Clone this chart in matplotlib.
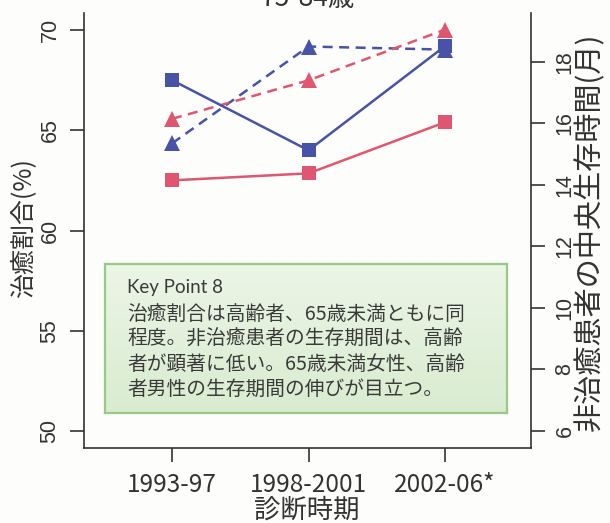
import numpy as np
import matplotlib
matplotlib.use("Agg")
import matplotlib.pyplot as plt

# ---- data ----
periods = ["1993-97", "1998-2001", "2002-06*"]
cure_male = [67.5, 64.0, 69.2]        # blue squares, left axis (%)
cure_female = [62.5, 62.85, 65.4]     # red squares, left axis (%)
surv_male = [15.35, 18.5, 18.4]       # blue triangles, right axis (months)
surv_female = [16.15, 17.4, 19.05]    # red triangles, right axis (months)
left_ticks = [50, 55, 60, 65, 70]
right_ticks = [6, 8, 10, 12, 14, 16, 18]
title = "75-84歳"
xlabel = "診断時期"
ylabel_left = "治癒割合(%)"
ylabel_right = "非治癒患者の中央生存時間(月)"
key_title = "Key Point 8"
key_lines = ["治癒割合は高齢者、65歳未満ともに同",
             "程度。非治癒患者の生存期間は、高齢",
             "者が顕著に低い。65歳未満女性、高齢",
             "者男性の生存期間の伸びが目立つ。"]

BLUE = "#4852a6"
RED = "#de566f"
INK = "#333333"
JP = ["Noto Sans CJK JP", "DejaVu Sans"]
SANS = ["Liberation Sans", "DejaVu Sans"]

W, H = 610, 523
fig = plt.figure(figsize=(W / 100, H / 100), dpi=100, facecolor="#fdfdfb")

def fx(px):
    return px / W

def fy(py):
    return 1 - py / H

L, R, T, B = 84, 531, 13, 448
ax = fig.add_axes([fx(L), fy(B), fx(R - L), (B - T) / H])
ax2 = ax.twinx()
ax.set_zorder(ax2.get_zorder() + 1)
ax.patch.set_visible(False)

x = np.arange(1, len(periods) + 1)

ax2.plot(x, surv_male, color=BLUE, lw=1.8, ls=(0, (4, 2.6)), marker="^", ms=11,
         markeredgewidth=0)
ax2.plot(x, surv_female, color=RED, lw=1.8, ls=(0, (4, 2.6)), marker="^", ms=11,
         markeredgewidth=0)
ax.plot(x, cure_male, color=BLUE, lw=1.8, marker="s", ms=10.5, markeredgewidth=0)
ax.plot(x, cure_female, color=RED, lw=1.8, marker="s", ms=10.5, markeredgewidth=0)

ax.set_xlim(0.355, 3.63)
ax.set_ylim(49.15, 70.85)
ax2.set_ylim(5.447, 19.59)

for a in (ax, ax2):
    for s in a.spines.values():
        s.set_visible(False)
        s.set_color(INK)
        s.set_linewidth(1.2)
ax.spines["left"].set_visible(True)
ax.spines["bottom"].set_visible(True)
ax2.spines["right"].set_visible(True)

ax.set_xticks(x)
ax.set_xticklabels(periods, fontfamily=JP, fontsize=17.5, color=INK)
ax.tick_params(axis="x", length=10, width=1.2, color=INK, pad=7)

ax.set_yticks(left_ticks)
ax.set_yticklabels([str(t) for t in left_ticks], fontfamily=SANS, fontsize=15.5,
                   color=INK, rotation=90, va="center")
ax.tick_params(axis="y", length=10, width=1.2, color=INK, pad=7)

ax2.set_yticks(right_ticks)
ax2.set_yticklabels([str(t) for t in right_ticks], fontfamily=SANS, fontsize=15.5,
                    color=INK, rotation=90, va="center")
ax2.tick_params(axis="y", length=10, width=1.2, color=INK, pad=7)

# axis labels
fig.text(fx(307), fy(510), xlabel, fontfamily=JP, fontsize=19, color=INK,
         ha="center", va="center")
fig.text(fx(23), fy(228), ylabel_left, fontfamily=JP, fontsize=18, color=INK,
         ha="center", va="center", rotation=90)
fig.text(fx(590), fy(232), ylabel_right, fontfamily=JP, fontsize=21, color=INK,
         ha="center", va="center", rotation=90)
fig.text(fx(308), fy(6), title, fontfamily=JP, fontsize=19, color=INK,
         ha="center", va="baseline")

# key point box
bl, br, bt, bb = 105, 507, 264, 413
bax = fig.add_axes([fx(bl), fy(bb), fx(br - bl), (bb - bt) / H], zorder=10)
grad = np.linspace(0, 1, 64)[:, None]
top_c = np.array([0.925, 0.962, 0.905])
bot_c = np.array([0.850, 0.925, 0.815])
img = top_c[None, None, :] * (1 - grad[..., None]) + bot_c[None, None, :] * grad[..., None]
img = np.repeat(img, 4, axis=1)
bax.imshow(img, aspect="auto", extent=[0, 1, 0, 1], origin="upper")
bax.set_xlim(0, 1)
bax.set_ylim(0, 1)
bax.set_xticks([])
bax.set_yticks([])
for s in bax.spines.values():
    s.set_color("#98c985")
    s.set_linewidth(1.6)

def by(py):
    return (bb - py) / (bb - bt)

tx = (127 - bl) / (br - bl)
bax.text(tx, by(288), key_title, fontfamily=["Lato", "DejaVu Sans"], fontsize=13.5,
         color="#3a3a3a", ha="left", va="center")
for i, line in enumerate(key_lines):
    bax.text(tx, by(314 + 25 * i), line, fontfamily=JP, fontsize=14.2,
             color="#3a3a3a", ha="left", va="center")

fig.savefig("out.png", dpi=100, facecolor=fig.get_facecolor())
